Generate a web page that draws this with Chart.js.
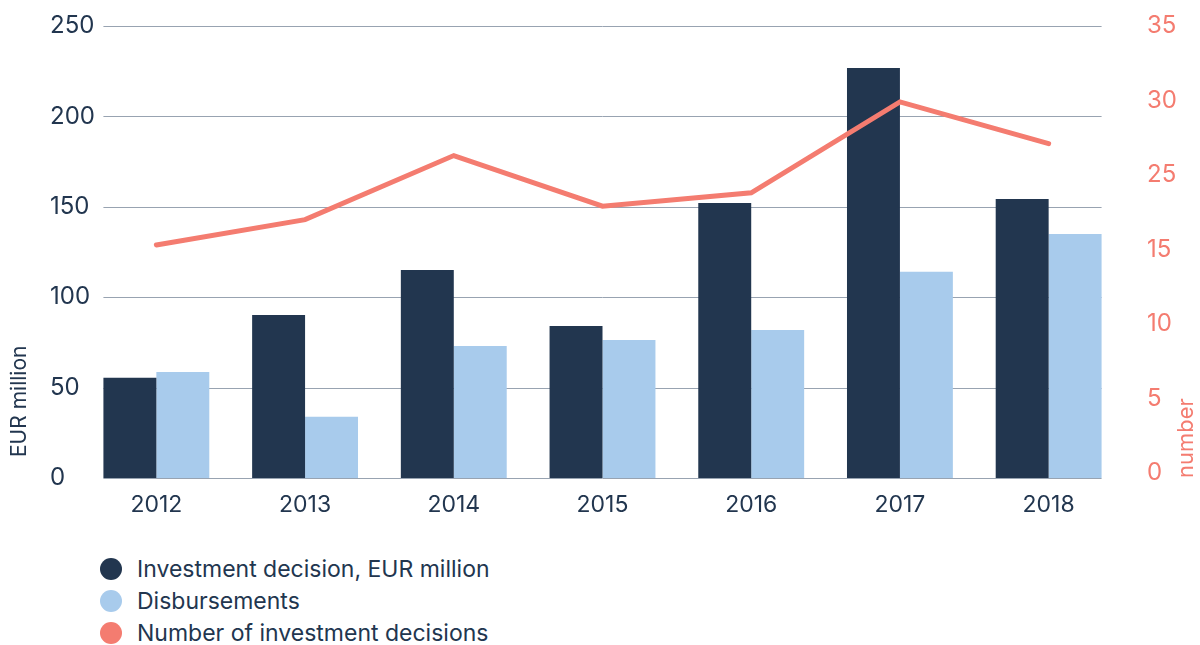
<!DOCTYPE html>
<html>
<head>
<meta charset="utf-8">
<script src="https://cdn.jsdelivr.net/npm/chart.js@4"></script>
<style>
  html, body { margin: 0; padding: 0; background: #fff; }
  #wrap { position: relative; width: 1200px; height: 645px; }
  #chart { position: absolute; left: 0; top: 0; }
  #legend { position: absolute; left: 100px; top: 553px; font-family: Inter, sans-serif; font-size: 23px; color: #22364f; }
  #legend div { display: flex; align-items: center; height: 32px; }
  #legend span.dot { width: 22px; height: 22px; border-radius: 50%; margin-right: 15px; }
</style>
</head>
<body>
<div id="wrap">
  <canvas id="chart" width="1200" height="530"></canvas>
  <div id="legend"></div>
</div>
<script>
// values
const years = ['2012', '2013', '2014', '2015', '2016', '2017', '2018'];
const investmentDecisions = [55.5, 90.2, 115, 84.1, 152.1, 226.8, 154.3];
const disbursements = [58.6, 33.9, 73.0, 76.3, 81.9, 114.1, 135.0];
const decisionCount = [15.3, 17.0, 21.3, 17.9, 18.8, 24.9, 22.1];
// right axis labels as printed (the original skips 20)
const countTickValues = [0, 5, 10, 15, 20, 25, 30];
const countTickLabels = ['0', '5', '10', '15', '25', '30', '35'];

const NAVY = '#22364f';
const LIGHT = '#a8cbec';
const SALMON = '#f47c70';
const FONT = 'Inter, sans-serif';

// horizontal rules only across the bar groups, left tick labels, axis titles
const rulesAndTitles = {
  id: 'rulesAndTitles',
  beforeDatasetsDraw(chart) {
    const { ctx } = chart;
    const y = chart.scales.y;
    const first = chart.getDatasetMeta(0).data[0].getProps(['x', 'width'], true);
    const lastBars = chart.getDatasetMeta(1).data;
    const last = lastBars[lastBars.length - 1].getProps(['x', 'width'], true);
    const x0 = first.x - first.width / 2;
    const x1 = last.x + last.width / 2;
    ctx.save();
    ctx.strokeStyle = '#98a3b1';
    ctx.lineWidth = 1;
    y.ticks.forEach(t => {
      const py = Math.round(y.getPixelForValue(t.value)) + 0.5;
      ctx.beginPath();
      ctx.moveTo(x0, py);
      ctx.lineTo(x1, py);
      ctx.stroke();
    });
    ctx.font = '24px ' + FONT;
    ctx.fillStyle = NAVY;
    ctx.textAlign = 'left';
    ctx.textBaseline = 'middle';
    y.ticks.forEach(t => {
      ctx.fillText(String(t.value), 50, y.getPixelForValue(t.value));
    });
    ctx.restore();
  },
  afterDraw(chart) {
    const { ctx } = chart;
    ctx.save();
    ctx.font = '21px ' + FONT;
    ctx.textBaseline = 'middle';
    ctx.textAlign = 'left';
    ctx.fillStyle = NAVY;
    ctx.translate(20, 457);
    ctx.rotate(-Math.PI / 2);
    ctx.fillText('EUR million', 0, 0);
    ctx.restore();
    ctx.save();
    ctx.font = '22px ' + FONT;
    ctx.textBaseline = 'middle';
    ctx.textAlign = 'left';
    ctx.fillStyle = SALMON;
    ctx.translate(1186, 478);
    ctx.rotate(-Math.PI / 2);
    ctx.fillText('number', 0, 0);
    ctx.restore();
  }
};

const chart = new Chart(document.getElementById('chart').getContext('2d'), {
  data: {
    labels: years,
    datasets: [
      { type: 'bar', label: 'Investment decision, EUR million', data: investmentDecisions,
        backgroundColor: NAVY, yAxisID: 'y', order: 2 },
      { type: 'bar', label: 'Disbursements', data: disbursements,
        backgroundColor: LIGHT, yAxisID: 'y', order: 2 },
      { type: 'line', label: 'Number of investment decisions', data: decisionCount,
        borderColor: SALMON, backgroundColor: SALMON, borderWidth: 5, pointRadius: 0,
        borderCapStyle: 'round', tension: 0, yAxisID: 'y1', order: 1 }
    ]
  },
  options: {
    responsive: false,
    animation: false,
    layout: { padding: { top: 26, left: 0, right: 0, bottom: 0 } },
    datasets: { bar: { categoryPercentage: 0.712, barPercentage: 1 } },
    plugins: { legend: { display: false }, tooltip: { enabled: false } },
    scales: {
      x: {
        grid: { display: false },
        border: { display: false },
        ticks: { color: NAVY, font: { family: FONT, size: 23 }, padding: 5 },
        afterFit(scale) { scale.height = 52; }
      },
      y: {
        position: 'left',
        min: 0, max: 250,
        grid: { display: false },
        border: { display: false },
        ticks: { stepSize: 50, display: false },
        afterFit(scale) { scale.width = 82; scale.paddingTop = 0; scale.paddingBottom = 0; }
      },
      y1: {
        position: 'right',
        min: -0.35, max: 30,
        grid: { display: false },
        border: { display: false },
        afterBuildTicks(scale) { scale.ticks = countTickValues.map(v => ({ value: v })); },
        ticks: {
          color: SALMON, font: { family: FONT, size: 24 }, padding: 16,
          callback: (v) => countTickLabels[countTickValues.indexOf(v)]
        },
        afterFit(scale) { scale.width = 77; scale.paddingTop = 0; scale.paddingBottom = 0; }
      }
    }
  },
  plugins: [rulesAndTitles]
});

const legend = document.getElementById('legend');
chart.data.datasets.forEach(ds => {
  const row = document.createElement('div');
  const dot = document.createElement('span');
  dot.className = 'dot';
  dot.style.background = ds.type === 'line' ? ds.borderColor : ds.backgroundColor;
  row.appendChild(dot);
  row.appendChild(document.createTextNode(ds.label));
  legend.appendChild(row);
});
</script>
</body>
</html>
